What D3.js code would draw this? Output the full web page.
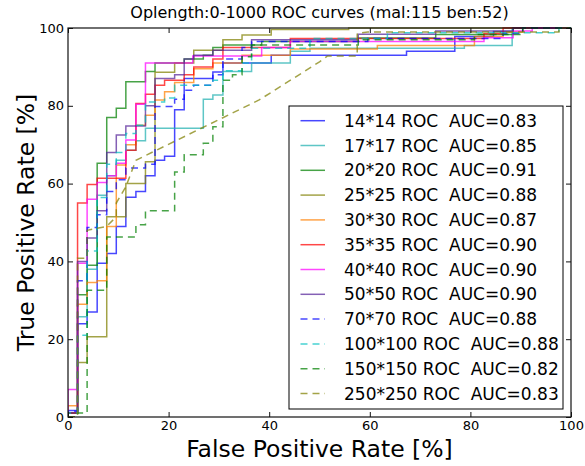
<!DOCTYPE html>
<html>
<head>
<meta charset="utf-8">
<script src="https://cdn.jsdelivr.net/npm/d3@7"></script>
<style>
  html, body { margin: 0; padding: 0; background: #fff; }
  svg { display: block; }
  text { font-family: "DejaVu Sans", sans-serif; fill: #000; }
</style>
</head>
<body>
<svg id="chart" width="585" height="466"></svg>
<script>
// ---------------- data ----------------
const titleText = "Oplength:0-1000 ROC curves (mal:115 ben:52)";
const xLabelText = "False Positive Rate [%]";
const yLabelText = "True Positive Rate [%]";
const xTicks = [0, 20, 40, 60, 80, 100];
const yTicks = [0, 20, 40, 60, 80, 100];

const categories = ["14*14", "17*17", "20*20", "25*25", "30*30", "35*35",
                    "40*40", "50*50", "70*70", "100*100", "150*150", "250*250"];
const aucValues = [0.83, 0.85, 0.91, 0.88, 0.87, 0.90, 0.90, 0.90, 0.88, 0.88, 0.82, 0.83];

// step curves: [FPR %, TPR % reached at that FPR]
const roc14 = [[0,0],[0,1.7],[1.9,24],[3.8,27],[5.8,39.5],[7.7,42],[9.6,49],[11.5,56.5],[13.5,58],[15.4,62],[17.3,66],[19.2,67],[21.2,79],[23.1,87],[28.8,88.7],[30.8,91],[40.4,93],[67.3,94],[76.9,97.8],[84.6,99.1],[88.5,100],[100,100]];
const roc17 = [[0,0],[0,1],[1.9,25.8],[3.8,38],[5.8,57],[7.7,62],[9.6,66],[11.5,68.6],[13.5,71],[15.4,74.2],[26.9,81.7],[28.8,82.8],[30.8,88.8],[36.5,91],[44.2,94],[48.1,94.8],[78.8,95.5],[88.3,100],[100,100]];
const roc20 = [[0,0],[0,1],[1.9,31.4],[3.8,39],[5.8,65.2],[7.7,77],[9.6,79.4],[11.5,86.2],[15.4,88.8],[17.3,91],[23.1,92],[26.9,93],[28.8,95],[30.8,95.6],[38.5,96.5],[57.7,97.4],[73.1,98.3],[88.5,100],[100,100]];
const roc25 = [[0,0],[0,1],[1.9,14],[3.8,20.6],[7.7,51.5],[11.5,60],[15.4,65.6],[17.3,88.6],[21.2,91],[25,94.3],[30.8,97],[34.6,98.2],[40.4,99.6],[55.8,100],[100,100]];
const roc30 = [[0,0],[0,2.9],[1.9,29],[3.8,34.6],[5.8,35],[7.7,49],[9.6,64.8],[11.5,70],[13.5,75],[15.4,77.6],[17.3,81.5],[19.2,83.6],[21.2,86],[25,89.5],[28.8,91],[34.6,93],[44.2,94.6],[61.5,95.5],[80.8,97.8],[86.5,99],[90.4,100],[100,100]];
const roc35 = [[0,0],[0,1],[1.9,55],[3.8,59.8],[5.8,61.4],[11.5,68.6],[13.5,80.6],[15.4,83],[17.3,85.3],[19.2,86.6],[23.1,88],[25,90],[28.8,92],[30.8,95],[44.2,97.3],[82.7,98.5],[86.5,100],[100,100]];
const roc40 = [[0,0],[0,7.1],[1.9,39.5],[3.8,56],[5.8,60.3],[7.7,62],[9.6,65.2],[11.5,71.2],[13.5,80.4],[15.4,91],[24.8,92.8],[38.5,95],[44.2,96.5],[82.7,97.5],[88.5,99.2],[92.3,100],[100,100]];
const roc50 = [[0,0],[0,1],[1.9,40],[3.8,46],[5.8,53],[7.7,68],[9.6,72.5],[11.5,74.8],[15.4,80],[17.3,87],[21.2,88],[23.1,92],[25,93],[28.8,94.3],[36.5,97],[57.7,98.4],[73.1,99.2],[88.5,100],[100,100]];
const roc70 = [[0,0],[0,1.5],[1.9,35],[3.8,48.7],[5.8,52],[7.7,58],[9.6,61],[11.5,64],[15.4,65],[17.3,79.8],[21.2,81.7],[23.1,84],[25,85.3],[28.8,88],[30.8,92],[34.6,95],[36.5,96.5],[59.6,97.3],[86.5,98.6],[90.4,100],[100,100]];
const roc100 = [[0,0],[0,1],[1.9,21],[3.8,42.7],[5.8,56.4],[7.7,65],[9.6,68],[11.5,72.9],[13.5,75],[15.4,81],[19.2,82],[21.2,85.3],[28.8,86.6],[30.8,89],[34.6,91],[36.5,94.8],[48.1,97.3],[63.5,98.8],[97.6,100],[100,100]];
const roc150 = [[0,0],[1.9,1],[3.8,32.6],[7.7,46.3],[13.5,49.4],[15.4,53],[21.2,63],[23.1,67.4],[26.9,70.4],[28.8,74.6],[30.8,86.6],[32.7,88],[34.6,92.6],[36.5,95.6],[57.7,97],[80.8,98.3],[90.4,100],[100,100]];
// polyline vertices (has a tied-score diagonal)
const roc250 = [[0,0],[1.9,0],[1.9,40.8],[3.8,40.8],[3.8,48],[7.7,49],[9.6,51.5],[9.6,55],[11.5,59.2],[13.5,66],[38,81.5],[50,91.3],[51.6,92.8],[57.5,92.8],[57.5,98.6],[59.6,99],[97.6,99],[97.6,100],[100,100]];

const seriesValues = [roc14, roc17, roc20, roc25, roc30, roc35, roc40, roc50, roc70, roc100, roc150, roc250];
const stepShaped   = [true, true, true, true, true, true, true, true, true, true, true, false];

// ---------------- styles ----------------
const colors = ["#0000ff", "#20b0b0", "#008000", "#808000", "#ff8000", "#ff0000",
                "#ff00ff", "#552299", "#0000ff", "#00bfbf", "#008000", "#808000"];
const dashed = [false, false, false, false, false, false, false, false, true, true, true, true];

// ---------------- layout ----------------
const svg = d3.select("#chart");
const X0 = 68, X1 = 571, Y0 = 28, Y1 = 417;

const x = d3.scaleLinear().domain([0, 100]).range([X0, X1]);
const y = d3.scaleLinear().domain([0, 100]).range([Y1, Y0]);

svg.append("defs").append("clipPath").attr("id", "clip")
  .append("rect").attr("x", X0).attr("y", Y0 - 1).attr("width", X1 - X0).attr("height", Y1 - Y0 + 1);

const plot = svg.append("g").attr("clip-path", "url(#clip)");

seriesValues.forEach((vals, i) => {
  const line = d3.line()
    .x(d => x(d[0])).y(d => y(d[1]))
    .curve(stepShaped[i] ? d3.curveStepAfter : d3.curveLinear);
  plot.append("path")
    .attr("d", line(vals))
    .attr("fill", "none")
    .attr("stroke", colors[i])
    .attr("stroke-opacity", 0.72)
    .attr("stroke-width", 1.5)
    .attr("stroke-dasharray", dashed[i] ? "7,5" : null);
});

// frame
svg.append("rect")
  .attr("x", X0).attr("y", Y0).attr("width", X1 - X0).attr("height", Y1 - Y0)
  .attr("fill", "none").attr("stroke", "#111").attr("stroke-width", 1.2);

// axes with inward ticks on all four sides
const tickLen = 5;
const gx = svg.append("g").attr("transform", `translate(0,${Y1})`)
  .call(d3.axisBottom(x).tickValues(xTicks).tickSize(-tickLen).tickPadding(4).tickFormat(d3.format("d")));
const gxt = svg.append("g").attr("transform", `translate(0,${Y0})`)
  .call(d3.axisTop(x).tickValues(xTicks).tickSize(-tickLen).tickFormat(""));
const gy = svg.append("g").attr("transform", `translate(${X0},0)`)
  .call(d3.axisLeft(y).tickValues(yTicks).tickSize(-tickLen).tickPadding(4).tickFormat(d3.format("d")));
const gyr = svg.append("g").attr("transform", `translate(${X1},0)`)
  .call(d3.axisRight(y).tickValues(yTicks).tickSize(-tickLen).tickFormat(""));

[gx, gxt, gy, gyr].forEach(g => {
  g.select(".domain").remove();
  g.selectAll(".tick line").attr("stroke", "#111").attr("stroke-width", 1);
  g.selectAll(".tick text").attr("font-family", "DejaVu Sans").attr("font-size", 13).attr("fill", "#000");
});

// title & labels
svg.append("text").attr("x", (X0 + X1) / 2).attr("y", 18)
  .attr("text-anchor", "middle").attr("font-size", 16).text(titleText);
svg.append("text").attr("x", (X0 + X1) / 2).attr("y", 457)
  .attr("text-anchor", "middle").attr("font-size", 23.5).text(xLabelText);
svg.append("text")
  .attr("transform", `translate(34,${(Y0 + Y1) / 2}) rotate(-90)`)
  .attr("text-anchor", "middle").attr("font-size", 23.5).text(yLabelText);

// legend
const LX = 289, LY = 106, LW = 274, LH = 303, rowH = 24.8, firstRow = 120.7;
const lg = svg.append("g");
lg.append("rect").attr("x", LX).attr("y", LY).attr("width", LW).attr("height", LH)
  .attr("fill", "#fff").attr("stroke", "#000").attr("stroke-width", 1);
categories.forEach((c, i) => {
  const cy = firstRow + i * rowH;
  lg.append("line").attr("x1", 300.5).attr("x2", 325).attr("y1", cy).attr("y2", cy)
    .attr("stroke", colors[i]).attr("stroke-opacity", 0.72).attr("stroke-width", 1.5)
    .attr("stroke-dasharray", dashed[i] ? "7,5" : null);
  lg.append("text").attr("x", 344).attr("y", cy + 6)
    .attr("font-size", 17).style("white-space", "pre")
    .text(`${c} ROC  AUC=${aucValues[i].toFixed(2)}`);
});
</script>
</body>
</html>
